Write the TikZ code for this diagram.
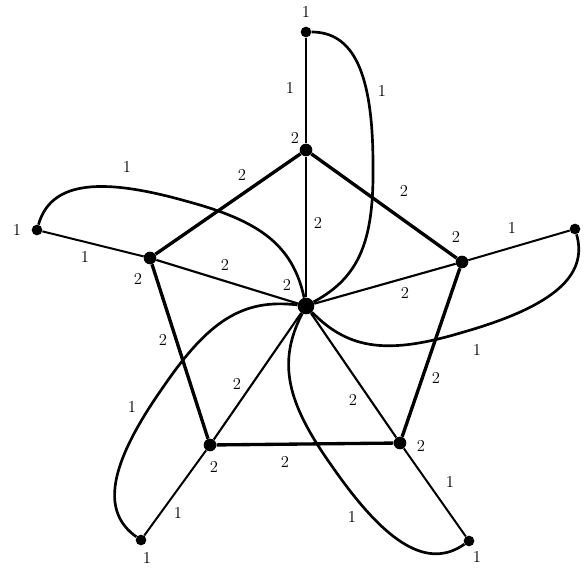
\documentclass[tikz,border=0pt]{standalone}
\begin{document}
\begin{tikzpicture}[x=0.75pt,y=-0.75pt,
  dot/.style={circle,fill=black,inner sep=0pt,minimum size=8pt},
  pdot/.style={circle,fill=black,inner sep=0pt,minimum size=9.5pt},
  hub/.style={circle,fill=black,inner sep=0pt,minimum size=12.5pt},
  lab/.style={inner sep=0pt,font=\fontsize{12.5}{14}\selectfont},
  pent/.style={line width=2.5pt},
  spoke/.style={line width=1.6pt},
  outer/.style={line width=1.5pt},
  petal/.style={line width=2pt}]
\useasboundingbox (0,0) rectangle (587,571);
% vertices
\node[hub] (C) at (306,306) {};
\node[pdot] (P1) at (306,150) {};
\node[pdot] (P2) at (462,262) {};
\node[pdot] (P3) at (400,443) {};
\node[pdot] (P4) at (210,445) {};
\node[pdot] (P5) at (150,258) {};
\node[dot] (O1) at (306,32) {};
\node[dot] (O2) at (575,229) {};
\node[dot] (O3) at (469,541) {};
\node[dot] (O4) at (141,540) {};
\node[dot] (O5) at (37,230) {};
% pentagon
\draw[pent] (P1) -- (P2) -- (P3) -- (P4) -- (P5) -- (P1);
% inner spokes
\foreach \p in {P1,P2,P3,P4,P5} \draw[spoke] (C) -- (\p);
% outer spokes
\draw[outer] (P1) -- (O1);
\draw[outer] (P2) -- (O2);
\draw[outer] (P3) -- (O3);
\draw[outer] (P4) -- (O4);
\draw[outer] (P5) -- (O5);
% petals
\begin{scope}[shift={(306,306)},rotate=0,scale=1]
\draw[petal] (O1) .. controls (47,-274) and (67,-234) .. (67,-141) .. controls (68,-66) and (54,-29) .. (C);
\end{scope}
\begin{scope}[shift={(306,306)},rotate=-74.03,scale=1.021]
\draw[petal] (O2) .. controls (47,-274) and (67,-234) .. (67,-141) .. controls (68,-66) and (54,-29) .. (C);
\end{scope}
\begin{scope}[shift={(306,306)},rotate=-145.25,scale=1.044]
\draw[petal] (O3) .. controls (47,-274) and (67,-234) .. (67,-141) .. controls (68,-66) and (54,-29) .. (C);
\end{scope}
\begin{scope}[shift={(306,306)},rotate=144.81,scale=1.045]
\draw[petal] (O4) .. controls (47,-274) and (67,-234) .. (67,-141) .. controls (68,-66) and (54,-29) .. (C);
\end{scope}
\begin{scope}[shift={(306,306)},rotate=74.22,scale=1.020]
\draw[petal] (O5) .. controls (47,-274) and (67,-234) .. (67,-141) .. controls (68,-66) and (54,-29) .. (C);
\end{scope}
% labels
\node[lab] (a1) at (306,12) {1};
\node[lab] (a2) at (290,88) {1};
\node[lab] (a3) at (382,91) {1};
\node[lab] (a4) at (295,138) {2};
\node[lab] (a5) at (242,175) {2};
\node[lab] (a6) at (404,191) {2};
\node[lab] (a7) at (318,223) {2};
\node[lab] (b1) at (17,230) {1};
\node[lab] (b2) at (127,167) {1};
\node[lab] (b3) at (85,257) {1};
\node[lab] (b4) at (138,279) {2};
\node[lab] (b5) at (225,265) {2};
\node[lab] (b6) at (287,285) {2};
\node[lab] (c1) at (456,237) {2};
\node[lab] (c2) at (512,228) {1};
\node[lab] (c3) at (405,293) {2};
\node[lab] (c4) at (477,350) {1};
\node[lab] (c5) at (436,378) {2};
\node[lab] (d1) at (353,400) {2};
\node[lab] (d2) at (421,446) {2};
\node[lab] (d3) at (450,482) {1};
\node[lab] (d4) at (352,517) {1};
\node[lab] (d5) at (477,557) {1};
\node[lab] (e1) at (285,462) {2};
\node[lab] (e2) at (163,340) {2};
\node[lab] (e3) at (132,407) {1};
\node[lab] (e4) at (237,384) {2};
\node[lab] (e5) at (214,467) {2};
\node[lab] (e6) at (178,513) {1};
\node[lab] (e7) at (147,558) {1};
\end{tikzpicture}
\end{document}
